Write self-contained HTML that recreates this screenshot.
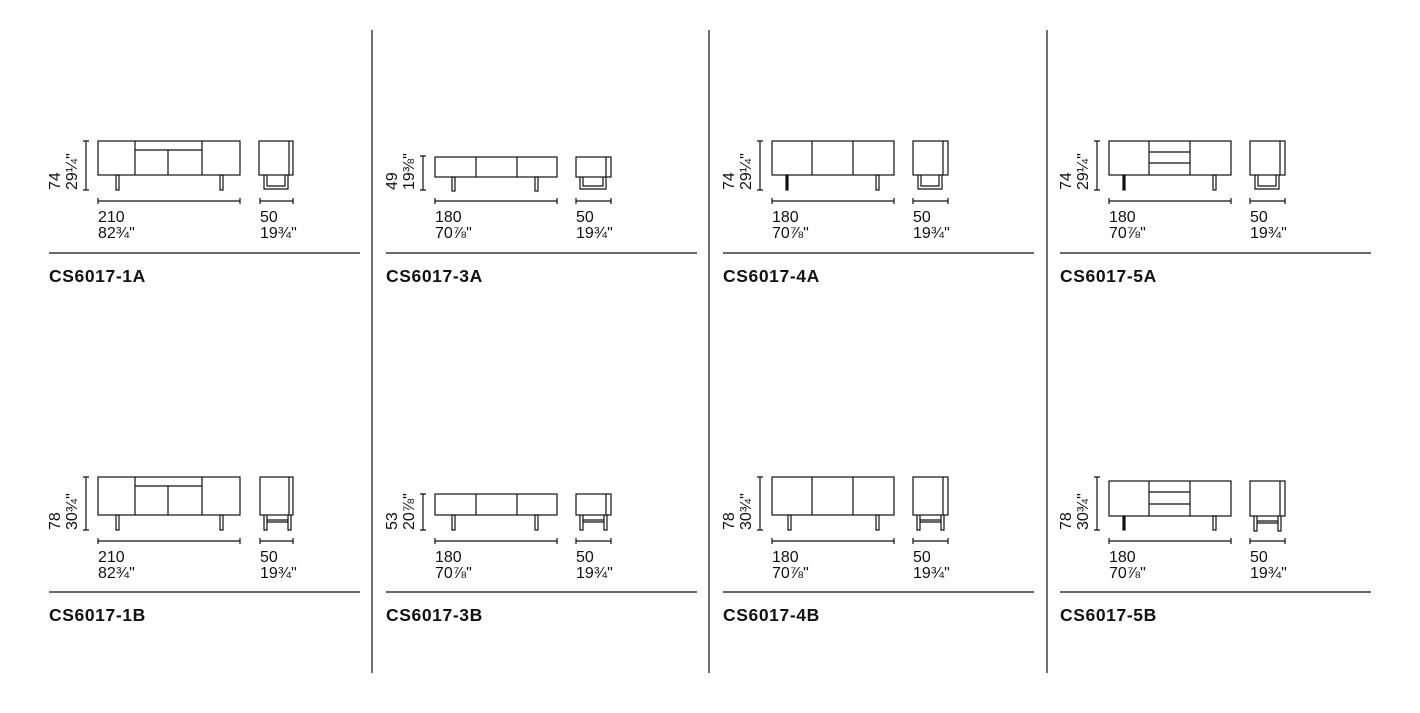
<!DOCTYPE html>
<html><head><meta charset="utf-8"><style>
html,body{margin:0;padding:0;background:#fff;width:1420px;height:713px;overflow:hidden}
svg text{font-family:"Liberation Sans",Arial,sans-serif;fill:#111}
.n{font-size:16px}
.l{font-size:17.5px;font-weight:bold;letter-spacing:0.6px}
</style></head><body>
<svg width="1420" height="713" viewBox="0 0 1420 713" xmlns="http://www.w3.org/2000/svg">
<defs>
<g id="sideA" fill="none" stroke="#111" stroke-width="1.2">
<path d="M5,0 V14 H29 V0 M8,0 V11 H26 V0"/>
</g>
<g id="sideA2" fill="none" stroke="#111" stroke-width="1.2">
<path d="M5,0 V12 H31 V0 M8,0 V9 H28 V0"/>
</g>
<g id="sideB" fill="none" stroke="#111" stroke-width="1.2">
<path d="M4,0 V15 H7 V0 M28,0 V15 H31 V0 M7,5 H28 M7,7 H28"/>
</g>
</defs>
<g stroke="#111" stroke-width="1.2" fill="none">
<line x1="372" y1="30" x2="372" y2="673"/>
<line x1="709" y1="30" x2="709" y2="673"/>
<line x1="1047" y1="30" x2="1047" y2="673"/>
<line x1="49" y1="253" x2="360" y2="253"/><line x1="386" y1="253" x2="697" y2="253"/>
<line x1="723" y1="253" x2="1034" y2="253"/><line x1="1060" y1="253" x2="1371" y2="253"/>
<line x1="49" y1="592" x2="360" y2="592"/><line x1="386" y1="592" x2="697" y2="592"/>
<line x1="723" y1="592" x2="1034" y2="592"/><line x1="1060" y1="592" x2="1371" y2="592"/>
</g>

<!-- 1A -->
<g>
<g stroke="#111" stroke-width="1.2" fill="none">
<path d="M86,141 V190 M83,141 H89 M83,190 H89"/>
<rect x="98" y="141" width="142" height="34"/>
<path d="M135,141 V175 M202,141 V175 M135,150 H202 M168,150 V175"/>
<rect x="116" y="175" width="3" height="15"/><rect x="220" y="175" width="3" height="15"/>
<rect x="259" y="141" width="34" height="34"/><path d="M289,141 V175"/>
<path d="M98,201 H240 M98,198 V204 M240,198 V204 M260,201 H293 M260,198 V204 M293,198 V204"/>
</g>
<use href="#sideA" x="259" y="175"/>
<text class="n" transform="translate(60,190) rotate(-90)">74</text>
<text class="n" transform="translate(77,190) rotate(-90)">29¼"</text>
<text class="n" x="98" y="222">210</text><text class="n" x="98" y="238">82¾"</text>
<text class="n" x="260" y="222">50</text><text class="n" x="260" y="238">19¾"</text>
<text class="l" x="49" y="282">CS6017-1A</text>
</g>

<!-- 1B -->
<g transform="translate(0,340)">
<g stroke="#111" stroke-width="1.2" fill="none">
<path d="M86,137 V190 M83,137 H89 M83,190 H89"/>
<rect x="98" y="137" width="142" height="38"/>
<path d="M135,137 V175 M202,137 V175 M135,146 H202 M168,146 V175"/>
<rect x="116" y="175" width="3" height="15"/><rect x="220" y="175" width="3" height="15"/>
<rect x="260" y="137" width="33" height="38"/><path d="M289,137 V175"/>
<path d="M98,201 H240 M98,198 V204 M240,198 V204 M260,201 H293 M260,198 V204 M293,198 V204"/>
</g>
<use href="#sideB" x="260" y="175"/>
<text class="n" transform="translate(60,190) rotate(-90)">78</text>
<text class="n" transform="translate(77,190) rotate(-90)">30¾"</text>
<text class="n" x="98" y="222">210</text><text class="n" x="98" y="238">82¾"</text>
<text class="n" x="260" y="222">50</text><text class="n" x="260" y="238">19¾"</text>
<text class="l" x="49" y="281">CS6017-1B</text>
</g>

<!-- 3A -->
<g transform="translate(337,0)">
<g stroke="#111" stroke-width="1.2" fill="none">
<path d="M86,156 V190 M83,156 H89 M83,190 H89"/>
<rect x="98" y="157" width="122" height="20"/>
<path d="M139,157 V177 M180,157 V177"/>
<rect x="115" y="177" width="3" height="14"/><rect x="198" y="177" width="3" height="14"/>
<rect x="239" y="157" width="35" height="20"/><path d="M269,157 V177"/>
<path d="M98,201 H220 M98,198 V204 M220,198 V204 M239,201 H274 M239,198 V204 M274,198 V204"/>
</g>
<use href="#sideA2" x="238" y="177"/>
<text class="n" transform="translate(60,190) rotate(-90)">49</text>
<text class="n" transform="translate(77,190) rotate(-90)">19⅜"</text>
<text class="n" x="98" y="222">180</text><text class="n" x="98" y="238">70⅞"</text>
<text class="n" x="239" y="222">50</text><text class="n" x="239" y="238">19¾"</text>
<text class="l" x="49" y="282">CS6017-3A</text>
</g>

<!-- 3B -->
<g transform="translate(337,340)">
<g stroke="#111" stroke-width="1.2" fill="none">
<path d="M86,154 V190 M83,154 H89 M83,190 H89"/>
<rect x="98" y="154" width="122" height="21"/>
<path d="M139,154 V175 M180,154 V175"/>
<rect x="115" y="175" width="3" height="15"/><rect x="198" y="175" width="3" height="15"/>
<rect x="239" y="154" width="35" height="21"/><path d="M269,154 V175"/>
<path d="M98,201 H220 M98,198 V204 M220,198 V204 M239,201 H274 M239,198 V204 M274,198 V204"/>
</g>
<use href="#sideB" x="239" y="175"/>
<text class="n" transform="translate(60,190) rotate(-90)">53</text>
<text class="n" transform="translate(77,190) rotate(-90)">20⅞"</text>
<text class="n" x="98" y="222">180</text><text class="n" x="98" y="238">70⅞"</text>
<text class="n" x="239" y="222">50</text><text class="n" x="239" y="238">19¾"</text>
<text class="l" x="49" y="281">CS6017-3B</text>
</g>

<!-- 4A -->
<g transform="translate(674,0)">
<g stroke="#111" stroke-width="1.2" fill="none">
<path d="M86,141 V190 M83,141 H89 M83,190 H89"/>
<rect x="98" y="141" width="122" height="34"/>
<path d="M138,141 V175 M179,141 V175"/>
<rect x="112" y="175" width="2" height="15" fill="#111"/><rect x="202" y="175" width="3" height="15"/>
<rect x="239" y="141" width="35" height="34"/><path d="M269,141 V175"/>
<path d="M98,201 H220 M98,198 V204 M220,198 V204 M239,201 H274 M239,198 V204 M274,198 V204"/>
</g>
<use href="#sideA" x="239" y="175"/>
<text class="n" transform="translate(60,190) rotate(-90)">74</text>
<text class="n" transform="translate(77,190) rotate(-90)">29¼"</text>
<text class="n" x="98" y="222">180</text><text class="n" x="98" y="238">70⅞"</text>
<text class="n" x="239" y="222">50</text><text class="n" x="239" y="238">19¾"</text>
<text class="l" x="49" y="282">CS6017-4A</text>
</g>

<!-- 4B -->
<g transform="translate(674,340)">
<g stroke="#111" stroke-width="1.2" fill="none">
<path d="M86,137 V190 M83,137 H89 M83,190 H89"/>
<rect x="98" y="137" width="122" height="38"/>
<path d="M138,137 V175 M179,137 V175"/>
<rect x="114" y="175" width="3" height="15"/><rect x="202" y="175" width="3" height="15"/>
<rect x="239" y="137" width="35" height="38"/><path d="M269,137 V175"/>
<path d="M98,201 H220 M98,198 V204 M220,198 V204 M239,201 H274 M239,198 V204 M274,198 V204"/>
</g>
<use href="#sideB" x="239" y="175"/>
<text class="n" transform="translate(60,190) rotate(-90)">78</text>
<text class="n" transform="translate(77,190) rotate(-90)">30¾"</text>
<text class="n" x="98" y="222">180</text><text class="n" x="98" y="238">70⅞"</text>
<text class="n" x="239" y="222">50</text><text class="n" x="239" y="238">19¾"</text>
<text class="l" x="49" y="281">CS6017-4B</text>
</g>

<!-- 5A -->
<g transform="translate(1011,0)">
<g stroke="#111" stroke-width="1.2" fill="none">
<path d="M86,141 V190 M83,141 H89 M83,190 H89"/>
<rect x="98" y="141" width="122" height="34"/>
<path d="M138,141 V175 M179,141 V175 M138,152 H179 M138,163 H179"/>
<rect x="112" y="175" width="2" height="15" fill="#111"/><rect x="202" y="175" width="3" height="15"/>
<rect x="239" y="141" width="35" height="34"/><path d="M269,141 V175"/>
<path d="M98,201 H220 M98,198 V204 M220,198 V204 M239,201 H274 M239,198 V204 M274,198 V204"/>
</g>
<use href="#sideA" x="239" y="175"/>
<text class="n" transform="translate(60,190) rotate(-90)">74</text>
<text class="n" transform="translate(77,190) rotate(-90)">29¼"</text>
<text class="n" x="98" y="222">180</text><text class="n" x="98" y="238">70⅞"</text>
<text class="n" x="239" y="222">50</text><text class="n" x="239" y="238">19¾"</text>
<text class="l" x="49" y="282">CS6017-5A</text>
</g>

<!-- 5B -->
<g transform="translate(1011,340)">
<g stroke="#111" stroke-width="1.2" fill="none">
<path d="M86,137 V190 M83,137 H89 M83,190 H89"/>
<rect x="98" y="141" width="122" height="35"/>
<path d="M138,141 V176 M179,141 V176 M138,152 H179 M138,164 H179"/>
<rect x="112" y="176" width="2" height="14" fill="#111"/><rect x="202" y="176" width="3" height="14"/>
<rect x="239" y="141" width="35" height="35"/><path d="M269,141 V176"/>
<path d="M98,201 H220 M98,198 V204 M220,198 V204 M239,201 H274 M239,198 V204 M274,198 V204"/>
</g>
<use href="#sideB" x="239" y="176"/>
<text class="n" transform="translate(60,190) rotate(-90)">78</text>
<text class="n" transform="translate(77,190) rotate(-90)">30¾"</text>
<text class="n" x="98" y="222">180</text><text class="n" x="98" y="238">70⅞"</text>
<text class="n" x="239" y="222">50</text><text class="n" x="239" y="238">19¾"</text>
<text class="l" x="49" y="281">CS6017-5B</text>
</g>
</svg>
</body></html>
